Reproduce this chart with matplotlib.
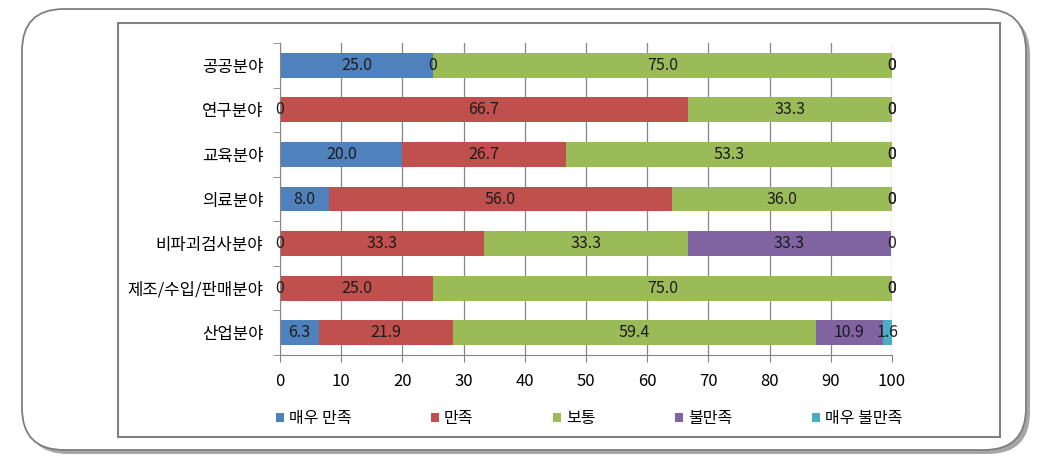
import matplotlib
matplotlib.use("Agg")
import matplotlib.pyplot as plt
from matplotlib.patches import FancyBboxPatch, Rectangle
import numpy as np

plt.rcParams['font.family'] = ['Noto Sans CJK KR', 'DejaVu Sans']

categories = ['공공분야', '연구분야', '교육분야', '의료분야', '비파괴검사분야', '제조/수입/판매분야', '산업분야']
series_names = ['매우 만족', '만족', '보통', '불만족', '매우 불만족']
very_satisfied = [25.0, 0, 20.0, 8.0, 0, 0, 6.3]
satisfied = [0, 66.7, 26.7, 56.0, 33.3, 25.0, 21.9]
normal = [75.0, 33.3, 53.3, 36.0, 33.3, 75.0, 59.4]
dissatisfied = [0, 0, 0, 0, 33.3, 0, 10.9]
very_dissatisfied = [0, 0, 0, 0, 0, 0, 1.6]
colors = ['#4F81BD', '#C0504D', '#9BBB59', '#8064A2', '#4BACC6']


def main():
    fig = plt.figure(figsize=(10.5, 4.61), dpi=100)
    W, H = 1050, 461

    # outer rounded frame with shadow
    shadow = FancyBboxPatch((26 / W, 1 - 454 / H), 1004 / W, 441 / H,
                            boxstyle="round,pad=0,rounding_size=0.04",
                            transform=fig.transFigure, facecolor='#a6a6a6',
                            edgecolor='none', mutation_aspect=W / H, zorder=0)
    frame = FancyBboxPatch((22 / W, 1 - 450 / H), 1004 / W, 441 / H,
                           boxstyle="round,pad=0,rounding_size=0.04",
                           transform=fig.transFigure, facecolor='white',
                           edgecolor='#7f7f7f', linewidth=1.3,
                           mutation_aspect=W / H, zorder=1)
    inner = Rectangle((118 / W, 1 - 437 / H), 882 / W, 414 / H,
                      transform=fig.transFigure, facecolor='white',
                      edgecolor='#808080', linewidth=1.5, zorder=2)
    for p in (shadow, frame, inner):
        fig.patches.append(p)

    ax = fig.add_axes([280 / W, 1 - 355 / H, 612 / W, 312 / H])
    ax.set_zorder(3)
    ax.patch.set_alpha(0)

    data = [very_satisfied, satisfied, normal, dissatisfied, very_dissatisfied]
    y = np.arange(len(categories))
    left = np.zeros(len(categories))
    for name, vals, c in zip(series_names, data, colors):
        vals = np.array(vals)
        bars = ax.barh(y, vals, left=left, height=0.56, color=c, label=name, zorder=2)
        labels = ['0' if v == 0 else f'{v:.1f}' for v in vals]
        ax.bar_label(bars, labels=labels, label_type='center', fontsize=11.5, color='#1a1a1a')
        left += vals

    ax.set_ylim(len(categories) - 0.5, -0.5)
    ax.set_xlim(0, 100)
    ax.set_xticks(np.arange(0, 101, 10))
    ax.set_yticks(y)
    ax.set_yticklabels(categories, fontsize=12)
    ax.tick_params(axis='x', labelsize=12, length=5, color='#808080', pad=8)
    ax.tick_params(axis='y', length=0, pad=12)
    ax.set_yticks(np.arange(-0.5, len(categories), 1), minor=True)
    ax.tick_params(axis='y', which='minor', length=5, color='#808080', direction='out')
    ax.grid(axis='x', color='#868686', linewidth=0.9, zorder=0)
    for s in ('top', 'right'):
        ax.spines[s].set_visible(False)
    for s in ('left', 'bottom'):
        ax.spines[s].set_color('#868686')

    ax.legend(loc='upper center', bbox_to_anchor=(0.505, -0.13), ncol=5, frameon=False,
              fontsize=11.5, handlelength=0.5, handleheight=0.5, handletextpad=0.3,
              columnspacing=5.0)

    fig.savefig('out.png', dpi=100)


if __name__ == "__main__":
    main()
